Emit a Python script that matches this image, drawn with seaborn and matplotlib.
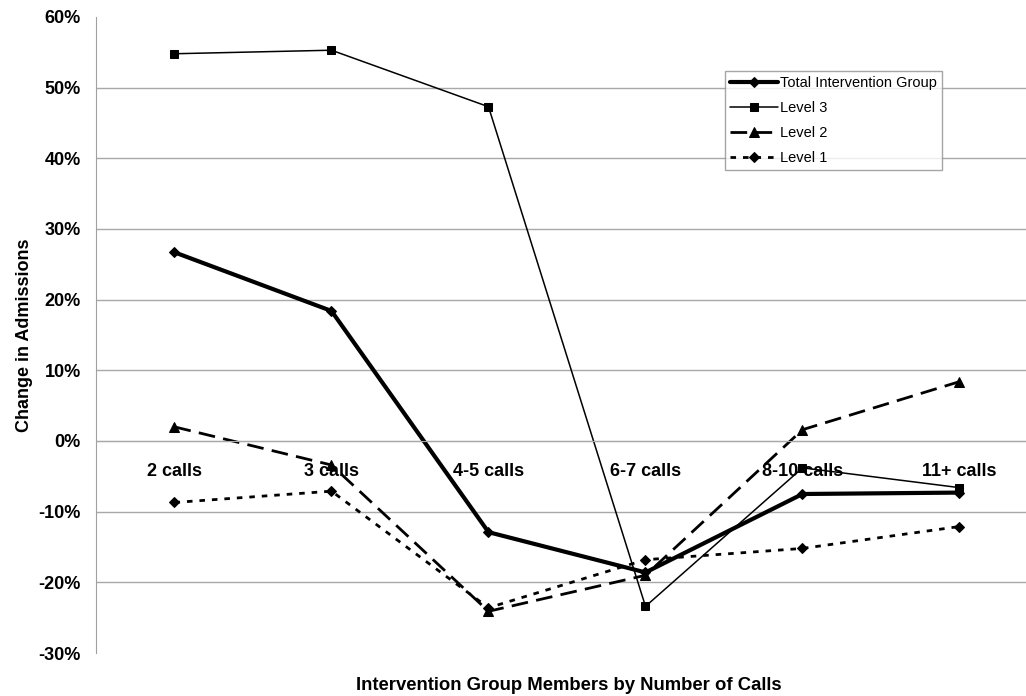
import numpy as np
import pandas as pd
import matplotlib
matplotlib.use("Agg")
import matplotlib.pyplot as plt
import seaborn as sns
from matplotlib.ticker import FuncFormatter, FixedLocator

# --- data (percent change in admissions) ---
categories = ["2 calls", "3 calls", "4-5 calls", "6-7 calls", "8-10 calls", "11+ calls"]
total_group = [26.7, 18.4, -12.9, -18.6, -7.5, -7.3]
level_3 = [54.8, 55.3, 47.3, -23.4, -3.8, -6.6]
level_2 = [2.0, -3.4, -24.1, -19.0, 1.6, 8.4]
level_1 = [-8.7, -7.1, -23.6, -16.8, -15.2, -12.1]
y_ticks = [-30, -20, -10, 0, 10, 20, 30, 40, 50, 60]

pos = np.arange(len(categories))

sns.set_style("white")
plt.rcParams["font.family"] = ["Liberation Sans", "DejaVu Sans"]
plt.rcParams["text.color"] = "black"
plt.rcParams["axes.labelcolor"] = "black"
plt.rcParams["xtick.color"] = "black"
plt.rcParams["ytick.color"] = "black"

fig = plt.figure(figsize=(10.26, 6.96), dpi=100)
# axes runs slightly past the right edge, the reference is cropped there
ax = fig.add_axes([96 / 1026, 1 - 653 / 696, (1038 - 96) / 1026, (653 - 17) / 696])

series = [
    ("Total Intervention Group", total_group, dict(linewidth=3.0, marker="D", markersize=5, linestyle="-")),
    ("Level 3", level_3, dict(linewidth=1.1, marker="s", markersize=6, linestyle="-")),
    ("Level 2", level_2, dict(linewidth=2.0, marker="^", markersize=7, linestyle=(0, (6, 3)))),
    ("Level 1", level_1, dict(linewidth=2.0, marker="D", markersize=5, linestyle=(0, (2, 2.5)))),
]
for name, vals, kw in series:
    sns.lineplot(x=pos, y=vals, ax=ax, color="black", label=name,
                 markeredgecolor="black", markerfacecolor="black", **kw)

# --- axes formatting ---
ax.set_xlim(-0.5, len(categories) - 0.5)
ax.set_ylim(-30, 60)
ax.yaxis.set_major_locator(FixedLocator(y_ticks))
ax.yaxis.set_major_formatter(FuncFormatter(lambda v, p: f"{v:.0f}%"))
ax.grid(axis="y", color="#a8a8a8", linewidth=1.0)
ax.set_axisbelow(True)
fig.canvas.draw()
gl = ax.yaxis.get_gridlines()
gl[0].set_visible(False)
gl[-1].set_visible(False)

for s in ["top", "right"]:
    ax.spines[s].set_visible(False)
ax.spines["left"].set_color("#a0a0a0")
ax.spines["bottom"].set_color("#a8a8a8")
ax.spines["bottom"].set_position(("data", 0))

ax.set_xticks(pos)
ax.set_xticklabels(categories, fontsize=13, fontweight="bold")
ax.set_xticks(np.arange(-0.5, len(categories), 1.0), minor=True)
ax.tick_params(axis="x", which="major", length=0, pad=16)
ax.tick_params(axis="x", which="minor", length=5, direction="in", color="#a0a0a0")
ax.tick_params(axis="y", length=5, direction="out", color="#a0a0a0", labelsize=13, pad=6)
for t in ax.get_yticklabels():
    t.set_fontweight("bold")

ax.set_ylabel("Change in Admissions", fontsize=13, fontweight="bold", labelpad=4)
fig.text((99 + 1038) / 2 / 1026, 1 - 685 / 696, "Intervention Group Members by Number of Calls",
         ha="center", va="center", fontsize=13.3, fontweight="bold")

leg = ax.legend(loc="upper left", bbox_to_anchor=((725 - 96) / 942, (653 - 71) / 636),
                borderaxespad=0, frameon=True, fancybox=False, edgecolor="#909090",
                fontsize=10.5, handlelength=3.3, borderpad=0.35, labelspacing=0.75,
                handletextpad=0.15)
leg.get_frame().set_linewidth(1.0)

plt.savefig("out.png", dpi=100)
